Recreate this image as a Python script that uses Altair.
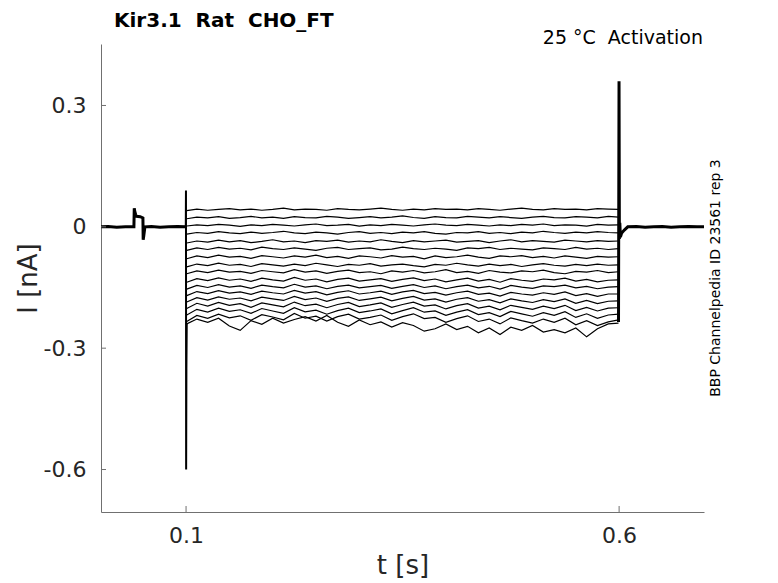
import altair as alt
import pandas as pd

# ---------------- data ----------------
TITLE = "Kir3.1\u00a0\u00a0Rat\u00a0\u00a0CHO_FT"
ANNOT = "25 °C\u00a0\u00a0Activation"
SIDE = "BBP Channelpedia ID 23561 rep 3"

X_TICKS = [0.1, 0.6]
Y_TICKS = [0.3, 0.0, -0.3, -0.6]

# sample times (s) during the voltage step
T_STEP = [0.1008, 0.1125, 0.125, 0.1375, 0.15, 0.1625, 0.175, 0.1875, 0.2, 0.2125,
          0.225, 0.2375, 0.25, 0.2625, 0.275, 0.2875, 0.3, 0.3125, 0.325, 0.3375,
          0.35, 0.3625, 0.375, 0.3875, 0.4, 0.4125, 0.425, 0.4375, 0.45, 0.4625,
          0.475, 0.4875, 0.5, 0.5125, 0.525, 0.5375, 0.55, 0.5625, 0.575, 0.5875,
          0.5993]

# currents of each sweep during the step (pA)
TR01 = [40, 44, 41, 43, 45, 42, 44, 41, 43, 46, 42, 44, 43, 41, 45, 43, 42, 44, 46, 43, 41,
        44, 42, 45, 43, 44, 42, 45, 43, 41, 44, 46, 43, 42, 45, 43, 44, 42, 45, 44, 43]
TR02 = [20, 24, 22, 25, 21, 23, 26, 22, 24, 21, 25, 23, 22, 26, 24, 21, 23, 25, 22, 24, 27,
        23, 21, 25, 23, 22, 26, 24, 22, 25, 23, 21, 24, 26, 23, 22, 25, 24, 22, 26, 24]
TR03 = [2, 5, 3, 6, 4, 1, 5, 3, 6, 4, 2, 5, 7, 3, 4, 6, 2, 5, 3, 6, 4,
        2, 5, 7, 4, 3, 6, 4, 2, 5, 3, 6, 4, 7, 3, 5, 4, 2, 6, 4, 5]
TR04 = [-18, -14, -16, -12, -15, -17, -13, -16, -14, -11, -15, -17, -13, -15, -18, -14, -12,
        -16, -14, -17, -13, -15, -12, -16, -18, -14, -15, -12, -16, -14, -17, -13, -15, -11,
        -14, -16, -13, -15, -12, -14, -15]
TR05 = [-40, -35, -38, -33, -37, -34, -39, -36, -32, -37, -35, -39, -34, -36, -33, -38, -35,
        -37, -32, -36, -39, -34, -37, -35, -33, -38, -36, -34, -39, -35, -32, -37, -34, -36,
        -38, -33, -35, -37, -34, -36, -35]
TR06 = [-58, -52, -56, -51, -55, -53, -57, -50, -54, -56, -52, -55, -58, -53, -51, -56, -54,
        -52, -57, -55, -50, -54, -56, -53, -55, -58, -52, -54, -51, -56, -53, -55, -57, -52,
        -54, -56, -51, -55, -53, -56, -54]
TR07 = [-79, -72, -76, -70, -75, -73, -78, -71, -74, -77, -72, -75, -70, -76, -73, -78, -72,
        -74, -77, -71, -75, -73, -79, -72, -76, -74, -70, -75, -78, -72, -74, -71, -76, -73,
        -77, -72, -75, -78, -73, -75, -74]
TR08 = [-99, -92, -96, -90, -95, -93, -98, -91, -94, -97, -92, -96, -90, -94, -98, -93, -95,
        -91, -97, -94, -92, -96, -99, -93, -95, -90, -94, -97, -92, -96, -93, -98, -94, -91,
        -95, -97, -93, -96, -92, -95, -94]
TR09 = [-116, -109, -113, -107, -112, -110, -115, -108, -111, -114, -106, -112, -109, -115,
        -110, -107, -113, -111, -116, -109, -112, -108, -114, -111, -106, -113, -110, -115,
        -108, -112, -114, -109, -111, -107, -113, -116, -110, -112, -108, -113, -111]
TR10 = [-137, -128, -133, -126, -132, -129, -135, -127, -131, -134, -125, -132, -129, -136,
        -130, -127, -134, -131, -128, -135, -130, -126, -133, -129, -136, -131, -127, -134,
        -130, -137, -128, -132, -135, -129, -131, -127, -134, -130, -136, -132, -131]
TR11 = [-154, -145, -150, -143, -149, -146, -152, -144, -148, -151, -142, -149, -146, -153,
        -147, -144, -151, -148, -145, -152, -147, -143, -150, -146, -153, -148, -144, -151,
        -147, -154, -145, -149, -152, -146, -148, -144, -151, -147, -153, -149, -148]
TR12 = [-170, -160, -165, -158, -164, -161, -167, -159, -163, -166, -157, -164, -160, -168,
        -162, -158, -166, -163, -159, -167, -161, -157, -165, -162, -169, -163, -159, -167,
        -164, -171, -162, -166, -169, -163, -167, -161, -170, -165, -172, -166, -166]
TR13 = [-186, -175, -181, -173, -179, -176, -183, -174, -178, -182, -172, -180, -176, -184,
        -177, -173, -182, -178, -174, -183, -177, -172, -181, -178, -186, -179, -175, -184,
        -180, -188, -178, -183, -187, -180, -185, -178, -189, -182, -190, -184, -183]
TR14 = [-202, -189, -196, -187, -194, -190, -199, -188, -193, -198, -186, -195, -191, -200,
        -192, -187, -197, -193, -188, -199, -192, -186, -196, -193, -203, -195, -190, -201,
        -196, -205, -194, -199, -204, -196, -202, -194, -207, -199, -208, -201, -200]
TR15 = [-218, -204, -211, -201, -209, -205, -214, -202, -208, -214, -200, -210, -206, -216,
        -207, -201, -212, -208, -203, -215, -207, -200, -211, -208, -219, -211, -205, -217,
        -212, -222, -209, -215, -221, -212, -219, -210, -224, -215, -226, -218, -216]
TR16 = [-234, -219, -226, -216, -225, -220, -231, -217, -223, -230, -214, -226, -221, -233,
        -222, -216, -228, -224, -218, -231, -222, -215, -227, -224, -236, -227, -220, -234,
        -228, -240, -225, -232, -238, -228, -236, -226, -242, -232, -244, -235, -230]
TR17 = [-240, -228, -236, -226, -245, -256, -232, -241, -226, -238, -229, -222, -233, -219,
        -236, -246, -230, -242, -235, -248, -237, -244, -258, -252, -240, -254, -246, -262,
        -250, -266, -248, -256, -244, -260, -254, -262, -250, -272, -252, -240, -238]
SWEEPS = [TR01, TR02, TR03, TR04, TR05, TR06, TR07, TR08, TR09, TR10, TR11, TR12, TR13,
          TR14, TR15, TR16, TR17]

# holding current before the step, with the small test-pulse artifact (nA)
PRE_T = [0.002, 0.01, 0.02, 0.03, 0.0398, 0.0402, 0.0406, 0.0418, 0.043, 0.047, 0.0502,
         0.0505, 0.0512, 0.0525, 0.06, 0.07, 0.08, 0.09, 0.0997]
PRE_I = [0.0, 0.001, -0.001, 0.0, 0.0, 0.046, 0.040, 0.030, 0.026, 0.025, 0.022,
         -0.032, -0.022, 0.0, 0.001, -0.001, 0.0, 0.001, 0.0]

# capacitive transient at step onset (nA)
ON_T = [0.0997, 0.0999, 0.1001, 0.1004, 0.1008]
ON_I = [0.0, 0.09, -0.60, -0.35, -0.24]

# capacitive transient at step end and holding current afterwards (nA)
OFF_T = [0.5993, 0.5999, 0.6003, 0.6008, 0.6015, 0.603, 0.606, 0.61, 0.62, 0.63, 0.64,
         0.65, 0.66, 0.67, 0.68, 0.69, 0.698]
OFF_I = [-0.235, 0.36, -0.03, 0.01, -0.025, -0.015, -0.008, 0.0, 0.001, -0.001, 0.0,
         0.001, -0.001, 0.0, 0.001, 0.0, 0.0]

# ---------------- build tables ----------------
rows = []
for k, vals in enumerate(SWEEPS):
    for t, v in zip(T_STEP, vals):
        rows.append({"t": t, "i": v / 1000.0, "s": f"sweep{k + 1}"})
sweeps_df = pd.DataFrame(rows)

thick_rows = []
for name, ts, vs, w in [("pre", PRE_T, PRE_I, 3.0), ("on", ON_T, ON_I, 2.0), ("off", OFF_T, OFF_I, 3.0)]:
    for t, v in zip(ts, vs):
        thick_rows.append({"t": t, "i": v, "s": name, "w": w})
thick_df = pd.DataFrame(thick_rows)

W, H = 603, 468
FONT = "DejaVu Sans"
INK = "#262626"
AXIS_COL = "#707070"

x_scale = alt.Scale(domain=[0.0018, 0.698], nice=False, zero=False)
y_scale = alt.Scale(domain=[-0.705, 0.452], nice=False, zero=False)

x_axis = alt.Axis(values=X_TICKS, format=".1f", title="t [s]", tickSize=0, grid=False,
                  labelFontSize=22, titleFontSize=26, labelPadding=13, titlePadding=6,
                  domainColor=AXIS_COL, labelColor=INK, titleColor=INK,
                  labelFont=FONT, titleFont=FONT, titleFontWeight="normal")
y_axis = alt.Axis(values=Y_TICKS, title="I [nA]", tickSize=0, grid=False,
                  labelExpr="datum.value == 0 ? '0' : (datum.value < 0 ? '-' + format(-datum.value, '.1f') : format(datum.value, '.1f'))",
                  labelFontSize=22, titleFontSize=26, labelPadding=15, titlePadding=2,
                  domainColor=AXIS_COL, labelColor=INK, titleColor=INK,
                  labelFont=FONT, titleFont=FONT, titleFontWeight="normal")

sweeps = alt.Chart(sweeps_df).mark_line(color="black", strokeWidth=1.2, clip=True).encode(
    x=alt.X("t:Q", scale=x_scale, axis=x_axis),
    y=alt.Y("i:Q", scale=y_scale, axis=y_axis),
    detail="s:N",
)

thick = alt.Chart(thick_df).mark_line(color="black", clip=True).encode(
    x=alt.X("t:Q", scale=x_scale),
    y=alt.Y("i:Q", scale=y_scale),
    detail="s:N",
    strokeWidth=alt.StrokeWidth("w:Q", scale=None),
)

xticks = alt.Chart(pd.DataFrame({"t": X_TICKS})).mark_rule(color=AXIS_COL, strokeWidth=1).encode(
    x=alt.X("t:Q", scale=x_scale), y=alt.value(H), y2=alt.value(H - 6))
yticks = alt.Chart(pd.DataFrame({"i": Y_TICKS})).mark_rule(color=AXIS_COL, strokeWidth=1).encode(
    y=alt.Y("i:Q", scale=y_scale), x=alt.value(0), x2=alt.value(5))

title = alt.Chart(pd.DataFrame({"txt": [TITLE]})).mark_text(
    align="left", baseline="alphabetic", fontSize=20, fontWeight="bold", font=FONT, color="black").encode(
    text="txt:N", x=alt.value(13), y=alt.value(-17.5))

annot = alt.Chart(pd.DataFrame({"txt": [ANNOT]})).mark_text(
    align="right", baseline="alphabetic", fontSize=19, font=FONT, color="black").encode(
    text="txt:N", x=alt.value(W - 1), y=alt.value(0))

side = alt.Chart(pd.DataFrame({"txt": [SIDE]})).mark_text(
    align="center", baseline="middle", angle=270, fontSize=14, font=FONT, color="black").encode(
    text="txt:N", x=alt.value(W + 12), y=alt.value(H / 2))

chart = alt.layer(sweeps, thick, xticks, yticks, title, annot, side).properties(
    width=W, height=H,
    autosize=alt.AutoSizeParams(type="none"),
    padding={"left": 93, "top": 36, "right": 50, "bottom": 70},
).configure_view(stroke=None)

chart.save("out.html", embed_options={"renderer": "svg", "actions": False})
